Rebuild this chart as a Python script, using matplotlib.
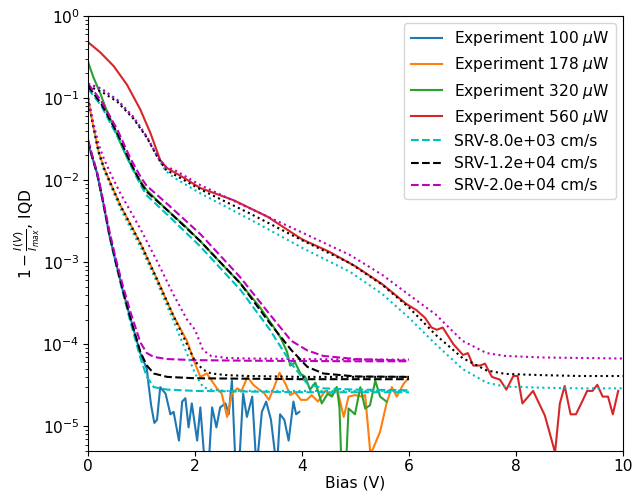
import matplotlib
matplotlib.use("Agg")
import matplotlib.pyplot as plt

# ---------------- data ----------------
powers = ["100", "178", "320", "560"]
exp_colors = ["tab:blue", "tab:orange", "tab:green", "tab:red"]
srv_labels = ["SRV-8.0e+03 cm/s", "SRV-1.2e+04 cm/s", "SRV-2.0e+04 cm/s"]
srv_colors = ["c", "k", "m"]

exp100_x = [0, 0.08, 0.17, 0.28, 0.4, 0.52, 0.65, 0.8, 0.98, 1.1, 1.13, 1.18, 1.24, 1.29, 1.35, 1.45,
            1.54, 1.6, 1.7, 1.76, 1.82, 1.88, 1.94, 2.04, 2.1, 2.19, 2.25, 2.32, 2.4, 2.47, 2.57, 2.63,
            2.69, 2.76, 2.82, 2.9, 2.97, 3.07, 3.15, 3.25, 3.33, 3.42, 3.53, 3.59, 3.67, 3.75, 3.84,
            3.89, 3.95]
exp100_y = [0.028, 0.019, 0.012, 5.5e-3, 2.1e-3, 1.0e-3, 4.5e-4, 2.0e-4, 7.7e-5, 5.0e-5, 3.3e-5,
            1.8e-5, 1.1e-5, 1.2e-5, 3.0e-5, 2.5e-5, 1.4e-5, 1.5e-5, 6.7e-6, 2.0e-5, 2.2e-5, 9.7e-6,
            1.9e-5, 6.7e-6, 1.7e-5, 3e-6, 3e-6, 1.7e-5, 9.7e-6, 1.7e-5, 1.9e-5, 1.4e-5, 3.6e-5, 3e-6,
            3e-6, 2.5e-5, 1.3e-5, 2.3e-5, 3e-6, 1.5e-5, 2.0e-5, 1.2e-5, 3e-6, 1.4e-5, 1.2e-5, 6.7e-6,
            2.0e-5, 1.4e-5, 1.5e-5]

exp178_x = [0, 0.1, 0.2, 0.3, 0.45, 0.6, 0.85, 1.0, 1.3, 1.6, 1.85, 1.98, 2.1, 2.22, 2.41, 2.5, 2.6,
            2.69, 2.79, 2.87, 2.98, 3.09, 3.2, 3.3, 3.38, 3.47, 3.58, 3.69, 3.78, 3.87, 3.98, 4.09,
            4.18, 4.3, 4.43, 4.56, 4.65, 4.78, 4.87, 4.99, 5.12, 5.18, 5.28, 5.46, 5.58, 5.68, 5.77,
            5.9, 5.98]
exp178_y = [0.10, 0.045, 0.022, 0.014, 8.3e-3, 5.0e-3, 2.45e-3, 1.6e-3, 6.0e-4, 2.2e-4, 1.1e-4,
            6.3e-5, 4.0e-5, 4.4e-5, 2.9e-5, 2.5e-5, 1.3e-5, 2.5e-5, 2.9e-5, 2.7e-5, 4.0e-5, 3.2e-5,
            2.8e-5, 2.5e-5, 2.1e-5, 2.9e-5, 4.5e-5, 3.3e-5, 2.4e-5, 2.6e-5, 2.1e-5, 2.1e-5, 2.4e-5,
            2.0e-5, 2.7e-5, 2.4e-5, 3.0e-5, 1.3e-5, 2.3e-5, 2.4e-5, 2.3e-5, 2.4e-5, 4.5e-6, 8.6e-6,
            1.9e-5, 3.0e-5, 2.3e-5, 3.3e-5, 3.8e-5]

exp320_x = [0, 0.1, 0.23, 0.35, 0.48, 0.6, 0.73, 0.92, 1.1, 1.3, 1.5, 1.8, 2.1, 2.5, 2.85, 3.2, 3.45,
            3.6, 3.72, 3.78, 3.87, 3.97, 4.06, 4.15, 4.25, 4.37, 4.48, 4.56, 4.65, 4.7, 4.74, 4.82,
            4.87, 4.99, 5.09, 5.18, 5.27, 5.37, 5.46, 5.58]
exp320_y = [0.277, 0.18, 0.114, 0.07, 0.045, 0.029, 0.019, 0.011, 7.5e-3, 5.6e-3, 4.2e-3, 2.8e-3,
            1.8e-3, 9.5e-4, 5.5e-4, 2.9e-4, 1.7e-4, 1.2e-4, 8.1e-5, 5.5e-5, 6.0e-5, 4.4e-5, 4.0e-5,
            2.8e-5, 3.4e-5, 1.9e-5, 2.5e-5, 2.3e-5, 3.0e-5, 1.7e-5, 3e-6, 3e-6, 1.65e-5, 1.4e-5,
            3.0e-5, 1.65e-5, 1.8e-5, 3.6e-5, 2.3e-5, 2.0e-5]

exp560_x = [0, 0.23, 0.48, 0.73, 0.98, 1.17, 1.35, 1.48, 1.8, 2.1, 2.72, 3.35, 4.0, 4.5, 5.0, 5.5,
            5.95, 6.14, 6.3, 6.42, 6.52, 6.63, 6.83, 7.01, 7.1, 7.2, 7.33, 7.42, 7.55, 7.7, 7.82,
            7.95, 8.03, 8.12, 8.32, 8.54, 8.73, 8.82, 8.91, 9.02, 9.12, 9.22, 9.33, 9.43, 9.52, 9.62,
            9.72, 9.81, 9.91]
exp560_y = [0.48, 0.36, 0.245, 0.145, 0.072, 0.037, 0.0175, 0.014, 0.0106, 8.0e-3, 5.7e-3, 3.6e-3,
            1.9e-3, 1.35e-3, 8.9e-4, 5.4e-4, 3.1e-4, 2.6e-4, 2.1e-4, 1.6e-4, 1.5e-4, 1.6e-4, 1.0e-4,
            7.4e-5, 7.8e-5, 5.5e-5, 5.5e-5, 5.8e-5, 4.0e-5, 3.7e-5, 2.8e-5, 4.1e-5, 4.1e-5, 1.9e-5,
            2.7e-5, 1.35e-5, 4.8e-6, 1.9e-5, 3.1e-5, 1.4e-5, 1.4e-5, 1.9e-5, 2.7e-5, 2.7e-5, 3.2e-5,
            2.3e-5, 2.3e-5, 1.4e-5, 2.7e-5]

# simulations, 100 uW (dashed)
sim100_x = [0, 0.08, 0.17, 0.28, 0.4, 0.52, 0.65, 0.8, 0.98, 1.1, 1.23, 1.48, 2.0, 3.0, 4.0, 5.0, 6.0]
sim100_c = [0.03, 0.019, 0.012, 5.4e-3, 2.1e-3, 9.5e-4, 4.3e-4, 1.8e-4, 6.8e-5, 4.0e-5, 3.0e-5,
            2.8e-5, 2.7e-5, 2.65e-5, 2.6e-5, 2.6e-5, 2.6e-5]
sim100_k = [0.03, 0.019, 0.012, 5.5e-3, 2.2e-3, 1.0e-3, 4.6e-4, 2.0e-4, 8.0e-5, 5.5e-5, 4.4e-5,
            4.0e-5, 3.85e-5, 3.8e-5, 3.75e-5, 3.75e-5, 3.75e-5]
sim100_m = [0.031, 0.02, 0.0125, 5.8e-3, 2.4e-3, 1.1e-3, 5.2e-4, 2.4e-4, 1.05e-4, 7.8e-5, 7.0e-5,
            6.6e-5, 6.4e-5, 6.3e-5, 6.25e-5, 6.2e-5, 6.2e-5]

# simulations, 178 uW (dotted)
sim178_x = [0, 0.1, 0.2, 0.3, 0.45, 0.6, 0.85, 1.0, 1.3, 1.6, 1.85, 2.0, 2.15, 2.3, 2.6, 3.0, 4.0, 5.0, 6.0]
sim178_c = [0.10, 0.043, 0.021, 0.013, 7.8e-3, 4.6e-3, 2.2e-3, 1.45e-3, 5.5e-4, 1.9e-4, 7.7e-5,
            4.4e-5, 3.0e-5, 2.8e-5, 2.7e-5, 2.7e-5, 2.7e-5, 2.7e-5, 2.7e-5]
sim178_k = [0.10, 0.045, 0.022, 0.014, 8.3e-3, 5.0e-3, 2.45e-3, 1.6e-3, 6.0e-4, 2.2e-4, 1.0e-4,
            6.2e-5, 4.9e-5, 4.4e-5, 4.2e-5, 4.1e-5, 4.0e-5, 4.0e-5, 4.0e-5]
sim178_m = [0.10, 0.05, 0.027, 0.018, 0.011, 7.0e-3, 3.6e-3, 2.4e-3, 1.0e-3, 4.0e-4, 2.0e-4,
            1.5e-4, 8.5e-5, 7.2e-5, 6.8e-5, 6.7e-5, 6.6e-5, 6.5e-5, 6.5e-5]

# simulations, 320 uW (dashed)
sim320_x = [0, 0.25, 0.55, 0.8, 1.0, 1.1, 1.5, 2.1, 2.85, 3.4, 3.8, 4.1, 4.4, 5.0, 6.0]
sim320_c = [0.13, 0.08, 0.034, 0.015, 8.3e-3, 6.5e-3, 3.7e-3, 1.55e-3, 4.6e-4, 1.5e-4, 5.8e-5,
            3.3e-5, 2.9e-5, 2.8e-5, 2.75e-5]
sim320_k = [0.14, 0.085, 0.037, 0.016, 9.0e-3, 7.2e-3, 4.2e-3, 1.8e-3, 5.5e-4, 1.8e-4, 8.5e-5,
            5.3e-5, 4.4e-5, 4.05e-5, 4.0e-5]
sim320_m = [0.15, 0.092, 0.041, 0.018, 0.0105, 0.0085, 5.0e-3, 2.2e-3, 6.5e-4, 2.3e-4, 1.1e-4,
            8.4e-5, 7.2e-5, 6.6e-5, 6.3e-5]

# simulations, 560 uW (dotted)
sim560_x = [0, 0.25, 0.55, 0.85, 1.1, 1.3, 1.45, 1.6, 2.1, 3.0, 4.0, 4.9, 5.5, 6.0, 6.5, 7.0, 7.45,
            7.8, 8.5, 9.2, 10]
sim560_c = [0.15, 0.13, 0.093, 0.057, 0.033, 0.019, 0.013, 0.0108, 6.9e-3, 3.4e-3, 1.5e-3, 7.6e-4,
            4.1e-4, 2.1e-4, 1.0e-4, 5.0e-5, 3.4e-5, 3.05e-5, 2.95e-5, 2.9e-5, 2.9e-5]
sim560_k = [0.14, 0.12, 0.09, 0.056, 0.033, 0.019, 0.0135, 0.0118, 7.7e-3, 4.0e-3, 1.85e-3,
            9.7e-4, 5.3e-4, 2.8e-4, 1.3e-4, 6.8e-5, 4.8e-5, 4.35e-5, 4.2e-5, 4.1e-5, 4.1e-5]
sim560_m = [0.15, 0.13, 0.095, 0.059, 0.034, 0.0195, 0.0145, 0.0135, 8.7e-3, 4.6e-3, 2.3e-3,
            1.22e-3, 7.0e-4, 4.0e-4, 2.3e-4, 1.1e-4, 7.8e-5, 7.2e-5, 6.9e-5, 6.8e-5, 6.7e-5]

# ---------------- plot ----------------
plt.rcParams["font.size"] = 11.2
plt.rcParams["xtick.major.pad"] = 2.5
plt.rcParams["ytick.major.pad"] = 2.5

fig = plt.figure(figsize=(6.32, 4.91), dpi=100)
ax = fig.add_axes([88 / 632, 40 / 491, 535 / 632, 435 / 491])

exps = [(exp100_x, exp100_y), (exp178_x, exp178_y), (exp320_x, exp320_y), (exp560_x, exp560_y)]
for (xx, yy), p, c in zip(exps, powers, exp_colors):
    ax.plot(xx, yy, color=c, lw=1.5, label=f"Experiment {p} $\\mu$W")

sims = [
    (sim100_x, [sim100_c, sim100_k, sim100_m], "--", True),
    (sim178_x, [sim178_c, sim178_k, sim178_m], ":", False),
    (sim320_x, [sim320_c, sim320_k, sim320_m], "--", False),
    (sim560_x, [sim560_c, sim560_k, sim560_m], ":", False),
]
for xx, ys, ls, lab in sims:
    for yy, c, l in zip(ys, srv_colors, srv_labels):
        ax.plot(xx, yy, ls=ls, color=c, lw=1.5, label=l if lab else None)

ax.set_yscale("log")
ax.set_xlim(0, 10)
ax.set_ylim(5e-6, 1)
ax.set_xlabel("Bias (V)", labelpad=1)
ax.set_ylabel(r"$1 - \frac{I(V)}{I_{max}}$, IQD", labelpad=0)
ax.legend(loc="upper right", labelspacing=0.46, borderaxespad=0.45)

fig.savefig("out.png", dpi=100)
